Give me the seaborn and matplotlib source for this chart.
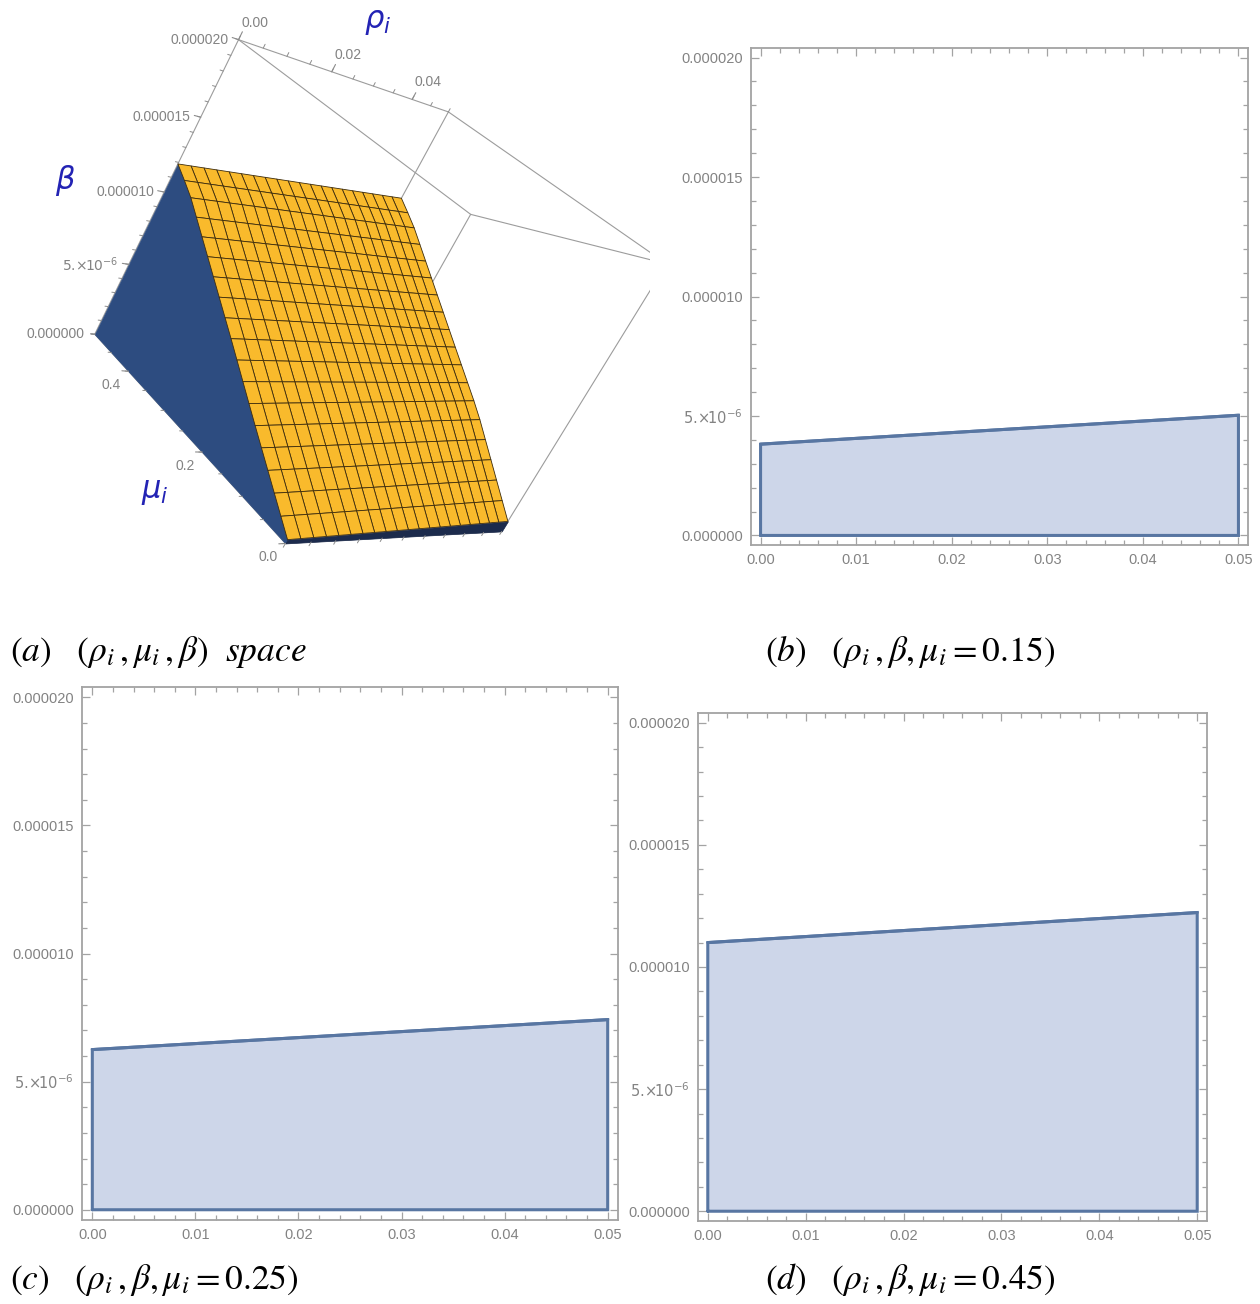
import numpy as np
import pandas as pd
import matplotlib
matplotlib.use("Agg")
import matplotlib.pyplot as plt
import seaborn as sns
from matplotlib.ticker import MultipleLocator, FixedLocator, FixedFormatter
from mpl_toolkits.mplot3d.art3d import Poly3DCollection
from mpl_toolkits.mplot3d import proj3d

# ---------------- data ----------------
rho_ends = [0.0, 0.05]                      # rho_i range of the region
beta_mu015 = [3.82e-6, 5.03e-6]             # upper beta bound at rho = 0, 0.05 (mu_i = 0.15)
beta_mu025 = [6.25e-6, 7.42e-6]             # mu_i = 0.25
beta_mu045 = [1.100e-5, 1.223e-5]           # mu_i = 0.45

# upper beta bound over the whole (rho_i, mu_i) box
mu_levels = [0.0, 0.15, 0.25, 0.45, 0.5]
beta_top_rho0 = [2.5e-7, 3.82e-6, 6.25e-6, 1.100e-5, 1.19e-5]
beta_top_rho5 = [8.0e-7, 5.03e-6, 7.42e-6, 1.223e-5, 1.32e-5]

rho_ticks = [0.0, 0.01, 0.02, 0.03, 0.04, 0.05]
rho_tick_labels = ["0.00", "0.01", "0.02", "0.03", "0.04", "0.05"]
beta_ticks = [0.0, 5e-6, 1e-5, 1.5e-5, 2e-5]
beta_tick_labels = ["0.000000", r"$5.\!{\times}\!10^{-6}$", "0.000010", "0.000015", "0.000020"]
rho3d_ticks = [0.0, 0.02, 0.04]
rho3d_labels = ["0.00", "0.02", "0.04"]
mu3d_ticks = [0.0, 0.2, 0.4]
mu3d_labels = ["0.0", "0.2", "0.4"]

# ---------------- style ----------------
sns.set_theme(style="ticks")
plt.rcParams["font.family"] = ["Liberation Sans", "DejaVu Sans"]
plt.rcParams["mathtext.fontset"] = "dejavusans"

FILL = "#cdd6e9"
EDGE = "#5876a2"
FRAME = "#a3a3a3"
TICKTXT = "#838383"
AXBLUE = "#2323b4"
YELLOW = "#f9ba2c"
SIDE = "#2d4c80"
STRIP = "#1c2b4c"
MESH = "#3d2c0c"
BOX = "#9c9c9c"
TICK = "#8c8c8c"

W, H = 1260, 1304
fig = plt.figure(figsize=(W / 100, H / 100), dpi=100)


def px_rect(x0, y0, x1, y1):
    return [x0 / W, 1 - y1 / H, (x1 - x0) / W, (y1 - y0) / H]


# ---------------- 2D region panels ----------------
def region_panel(rect, beta_pair):
    ax = fig.add_axes(px_rect(*rect))
    df = pd.DataFrame({"rho": rho_ends, "beta": beta_pair})
    ax.fill_between(df["rho"], 0, df["beta"], color=FILL, lw=0, zorder=1)
    ox = [rho_ends[0], rho_ends[0], rho_ends[1], rho_ends[1], rho_ends[0]]
    oy = [0, beta_pair[0], beta_pair[1], 0, 0]
    ax.plot(ox, oy, color=EDGE, lw=2.2, zorder=2, solid_joinstyle="miter")
    sns.lineplot(data=df, x="rho", y="beta", ax=ax, color=EDGE, lw=2.2, zorder=3)
    ax.set_xlabel("")
    ax.set_ylabel("")
    span_x = rho_ends[1] - rho_ends[0]
    span_y = beta_ticks[-1] - beta_ticks[0]
    ax.set_xlim(rho_ends[0] - 0.02 * span_x, rho_ends[1] + 0.02 * span_x)
    ax.set_ylim(beta_ticks[0] - 0.02 * span_y, beta_ticks[-1] + 0.02 * span_y)
    ax.xaxis.set_major_locator(FixedLocator(rho_ticks))
    ax.xaxis.set_major_formatter(FixedFormatter(rho_tick_labels))
    ax.xaxis.set_minor_locator(MultipleLocator(0.002))
    ax.yaxis.set_major_locator(FixedLocator(beta_ticks))
    ax.yaxis.set_major_formatter(FixedFormatter(beta_tick_labels))
    ax.yaxis.set_minor_locator(MultipleLocator(1e-6))
    ax.tick_params(which="both", direction="in", top=True, right=True,
                   color=FRAME, labelcolor=TICKTXT, labelsize=10.5, width=0.9)
    ax.tick_params(which="major", length=6, pad=6)
    ax.tick_params(which="minor", length=3.5)
    for s in ax.spines.values():
        s.set_color(FRAME)
        s.set_linewidth(1.3)
    ax.grid(False)
    return ax


region_panel((751, 48, 1248, 545), beta_mu015)
region_panel((82, 687, 618, 1220), beta_mu025)
region_panel((698, 713, 1207, 1221), beta_mu045)

# ---------------- 3D panel ----------------
ax3 = fig.add_axes(px_rect(90, 27, 650, 587), projection="3d")
ax3.set_proj_type("persp", focal_length=0.45)
ax3.computed_zorder = False
ax3.view_init(elev=16.0, azim=-142.9, roll=-28.9)
ax3.set_box_aspect((1, 1, 1))
ax3.set_xticks([])
ax3.set_yticks([])
ax3.set_zticks([])
ax3.set_axis_off()

R_MAX = rho_ends[-1]
M_MAX = mu_levels[-1]
B_MAX = beta_ticks[-1]

# box edges
corners = [(r, m, b) for r in (0, R_MAX) for m in (0, M_MAX) for b in (0, B_MAX)]
for i, p in enumerate(corners):
    for q in corners[i + 1:]:
        if sum(a != c for a, c in zip(p, q)) == 1:
            ax3.plot(*zip(p, q), color=BOX, lw=0.8, zorder=1)

# rho_i = 0 face of the region
side = [(0, m, 0) for m in (mu_levels[0], mu_levels[-1])]
side += [(0, m, b) for m, b in zip(mu_levels[::-1], beta_top_rho0[::-1])]
ax3.add_collection3d(Poly3DCollection([side], facecolor=SIDE, edgecolor=SIDE, lw=0.5, zorder=2))

# mu_i = 0 face of the region
strip = [(0, 0, 0), (R_MAX, 0, 0), (R_MAX, 0, beta_top_rho5[0]), (0, 0, beta_top_rho0[0])]
ax3.add_collection3d(Poly3DCollection([strip], facecolor=STRIP, edgecolor=STRIP, lw=0.5, zorder=2))

# upper surface with mesh
rho_mesh = np.linspace(0, R_MAX, 21)
mu_mesh = np.linspace(0, M_MAX, 19)
top0 = np.interp(mu_mesh, mu_levels, beta_top_rho0)
top5 = np.interp(mu_mesh, mu_levels, beta_top_rho5)
RR, MM = np.meshgrid(rho_mesh, mu_mesh)
wgt = RR / R_MAX
BB = top0[:, None] * (1 - wgt) + top5[:, None] * wgt
ax3.plot_surface(RR, MM, BB, color=YELLOW, shade=False, edgecolor=MESH,
                 linewidth=0.6, rstride=1, cstride=1, zorder=3)

ax3.set_xlim(0, R_MAX)
ax3.set_ylim(0, M_MAX)
ax3.set_zlim(0, B_MAX)

# tick marks along the box edges
tk = 0.025
for v in rho3d_ticks:
    ax3.plot([v, v], [M_MAX, M_MAX], [B_MAX, B_MAX + tk * B_MAX], color=TICK, lw=0.8, zorder=4)
for v in np.arange(0, R_MAX + 1e-9, 0.005):
    ax3.plot([v, v], [M_MAX, M_MAX], [B_MAX, B_MAX + 0.5 * tk * B_MAX], color=TICK, lw=0.7, zorder=4)
    ax3.plot([v, v], [0, 0], [0, -0.5 * tk * B_MAX], color=TICK, lw=0.7, zorder=4)
for v in beta_ticks:
    ax3.plot([0, -tk * R_MAX], [M_MAX, M_MAX], [v, v], color=TICK, lw=0.8, zorder=4)
for v in np.arange(0, B_MAX + 1e-12, 1e-6):
    ax3.plot([0, -0.5 * tk * R_MAX], [M_MAX, M_MAX], [v, v], color=TICK, lw=0.7, zorder=4)
for v in mu3d_ticks:
    ax3.plot([0, -tk * R_MAX], [v, v], [0, 0], color=TICK, lw=0.8, zorder=4)
for v in np.arange(0, M_MAX + 1e-9, 0.05):
    ax3.plot([0, -0.5 * tk * R_MAX], [v, v], [0, 0], color=TICK, lw=0.7, zorder=4)

# tick labels: project the 3D anchor points to the page and offset them in pixels
fig.canvas.draw()


def page_xy(x, y, z, dx=0.0, dy=0.0):
    x2, y2, _ = proj3d.proj_transform(x, y, z, ax3.M)
    px, py = ax3.transData.transform((x2, y2))
    return (px + dx) / W, (py + dy) / H


for v, s in zip(rho3d_ticks, rho3d_labels):
    fig.text(*page_xy(v, M_MAX, B_MAX, 16, 17), s, ha="center", va="center",
             fontsize=10, color=TICKTXT)
for v, s in zip(beta_ticks, beta_tick_labels):
    fig.text(*page_xy(0, M_MAX, v, -10, 0), s, ha="right", va="center",
             fontsize=10, color=TICKTXT)
for v, s in zip(mu3d_ticks, mu3d_labels):
    fig.text(*page_xy(0, v, 0, -17, -14), s, ha="center", va="center",
             fontsize=10, color=TICKTXT)

# axis names
fig.text(378 / W, 1 - 22 / H, r"$\rho_i$", color=AXBLUE, fontsize=22, ha="center", va="center")
fig.text(65 / W, 1 - 180 / H, r"$\beta$", color=AXBLUE, fontsize=22, ha="center", va="center")
fig.text(155 / W, 1 - 492 / H, r"$\mu_i$", color=AXBLUE, fontsize=22, ha="center", va="center")

# ---------------- captions ----------------
cap = dict(fontsize=25.5, color="black", ha="left", va="center", math_fontfamily="stix")
fig.text(10 / W, 1 - 652 / H, r"$(a)\ \ \ (\rho_i\,,\mu_i\,,\beta)\ \ space$", **cap)
fig.text(765 / W, 1 - 652 / H, r"$(b)\ \ \ (\rho_i\,,\beta,\mu_i=0.15)$", **cap)
fig.text(10 / W, 1 - 1280 / H, r"$(c)\ \ \ (\rho_i\,,\beta,\mu_i=0.25)$", **cap)
fig.text(765 / W, 1 - 1280 / H, r"$(d)\ \ \ (\rho_i\,,\beta,\mu_i=0.45)$", **cap)

fig.savefig("out.png", dpi=100)
